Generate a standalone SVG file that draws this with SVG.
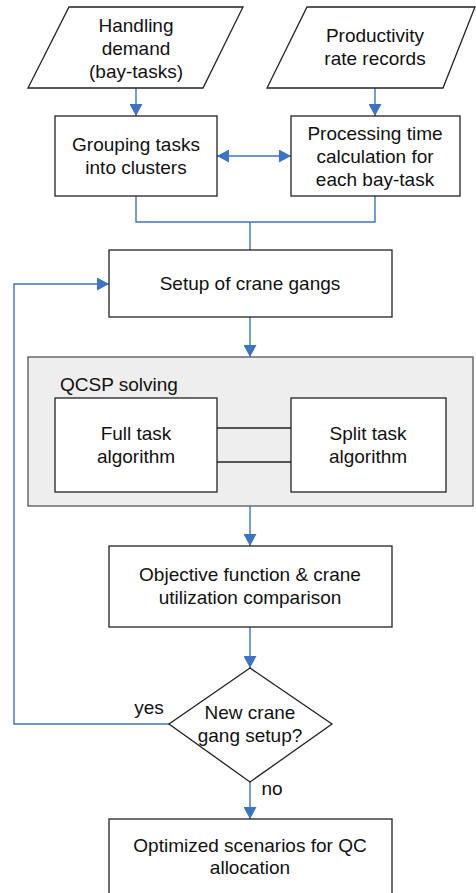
<svg xmlns="http://www.w3.org/2000/svg" width="476" height="893" viewBox="0 0 476 893">
<style>
.box{fill:#fff;stroke:#222;stroke-width:1.3}
.grp{fill:#eeeeee;stroke:#555;stroke-width:1.3}
.t{font-family:"Liberation Sans",Arial,sans-serif;font-size:19px;fill:#111;text-anchor:middle}
.c{fill:none;stroke:#3a74c2;stroke-width:1.4}
.k{fill:none;stroke:#222;stroke-width:1.3}
</style>
<defs>
<marker id="ah" viewBox="0 0 12 13" refX="12" refY="6.5" markerWidth="12" markerHeight="13" markerUnits="userSpaceOnUse" orient="auto-start-reverse">
<path d="M0,0 L12,6.5 L0,13 Z" fill="#3a74c2"/>
</marker>
</defs>
<rect width="476" height="893" fill="#fff"/>
<g id="qcsp">
<rect class="grp" x="28" y="357" width="445" height="149"/>
<text class="t" x="60" y="391" style="text-anchor:start">QCSP solving</text>
</g>
<g id="connectors">
<path class="c" d="M136,88 V116" marker-end="url(#ah)"/>
<path class="c" d="M375,88 V116" marker-end="url(#ah)"/>
<path class="c" d="M217,156 H291" marker-start="url(#ah)" marker-end="url(#ah)"/>
<path class="c" d="M136,196 V222 H375 V196"/>
<path class="c" d="M250,222 V250"/>
<path class="c" d="M250,317 V357" marker-end="url(#ah)"/>
<path class="c" d="M250,506 V546" marker-end="url(#ah)"/>
<path class="c" d="M250,627 V668" marker-end="url(#ah)"/>
<path class="c" d="M169,724 H14 V284 H109" marker-end="url(#ah)"/>
<path class="c" d="M250,782 V819" marker-end="url(#ah)"/>
<path class="k" d="M217,428 H291 M217,462 H291"/>
<text class="t" x="149" y="714">yes</text>
<text class="t" x="272" y="795">no</text>
</g>
<g id="handling">
<polygon class="box" points="69,7 243,7 203,88 28,88"/>
<text class="t" x="136" y="32">Handling</text>
<text class="t" x="136" y="55">demand</text>
<text class="t" x="136" y="78">(bay-tasks)</text>
</g>
<g id="productivity">
<polygon class="box" points="307,7 475,7 443,88 267,88"/>
<text class="t" x="375" y="42">Productivity</text>
<text class="t" x="375" y="65">rate records</text>
</g>
<g id="grouping">
<rect class="box" x="55" y="116" width="162" height="80"/>
<text class="t" x="136" y="151">Grouping tasks</text>
<text class="t" x="136" y="174">into clusters</text>
</g>
<g id="processing">
<rect class="box" x="291" y="116" width="169" height="80"/>
<text class="t" x="375" y="140">Processing time</text>
<text class="t" x="375" y="163">calculation for</text>
<text class="t" x="375" y="186">each bay-task</text>
</g>
<g id="setup">
<rect class="box" x="109" y="250" width="283" height="67"/>
<text class="t" x="250" y="290">Setup of crane gangs</text>
</g>
<g id="full">
<rect class="box" x="55" y="398" width="162" height="94"/>
<text class="t" x="136" y="440">Full task</text>
<text class="t" x="136" y="463">algorithm</text>
</g>
<g id="split">
<rect class="box" x="291" y="398" width="155" height="94"/>
<text class="t" x="368" y="440">Split task</text>
<text class="t" x="368" y="463">algorithm</text>
</g>
<g id="objective">
<rect class="box" x="109" y="546" width="283" height="81"/>
<text class="t" x="250" y="581">Objective function &amp; crane</text>
<text class="t" x="250" y="604">utilization comparison</text>
</g>
<g id="decision">
<polygon class="box" points="250,668 332,724 250,782 169,724"/>
<text class="t" x="250" y="719">New crane</text>
<text class="t" x="250" y="742">gang setup?</text>
</g>
<g id="result">
<rect class="box" x="109" y="819" width="283" height="75"/>
<text class="t" x="250" y="852">Optimized scenarios for QC</text>
<text class="t" x="250" y="874">allocation</text>
</g>
</svg>
